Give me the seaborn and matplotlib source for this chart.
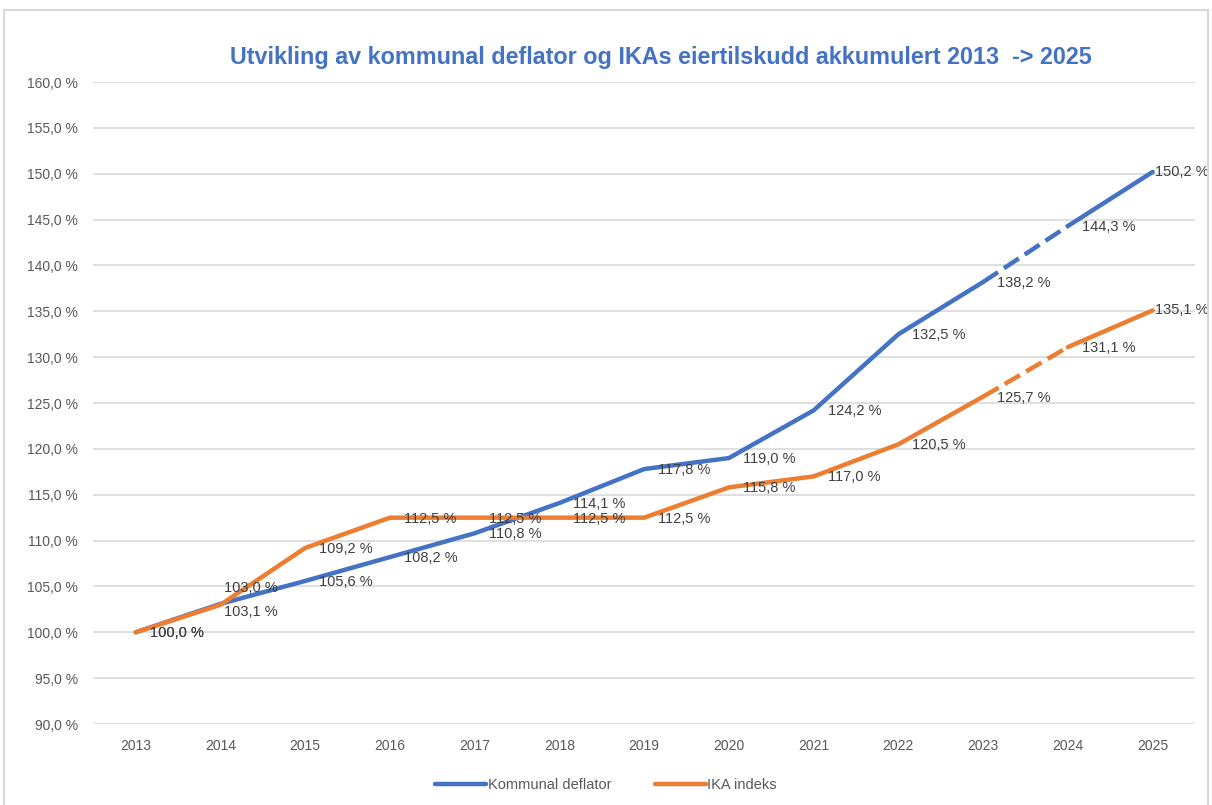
import matplotlib
matplotlib.use("Agg")
import matplotlib.pyplot as plt
import seaborn as sns
import pandas as pd
from matplotlib.lines import Line2D
from matplotlib.patches import Rectangle

years = ["2013", "2014", "2015", "2016", "2017", "2018", "2019",
         "2020", "2021", "2022", "2023", "2024", "2025"]
deflator = [100.0, 103.1, 105.6, 108.2, 110.8, 114.1, 117.8,
            119.0, 124.2, 132.5, 138.2, 144.3, 150.2]
ika = [100.0, 103.0, 109.2, 112.5, 112.5, 112.5, 112.5,
       115.8, 117.0, 120.5, 125.7, 131.1, 135.1]

BLUE = "#4472C4"
ORANGE = "#ED7D31"

sns.set_theme(style="white")
plt.rcParams["font.family"] = ["Liberation Sans", "DejaVu Sans"]

fig = plt.figure(figsize=(12.12, 8.05), dpi=100)
ax = fig.add_axes([0.077, 0.1006, 0.909, 0.7975])

fmt = lambda v: f"{v:.1f} %".replace(".", ",")


def draw_series(values, color):
    df = pd.DataFrame({"x": range(len(values)), "y": values})
    # solid up to 2023, dashed 2023 -> 2024, solid 2024 -> 2025
    sns.lineplot(data=df.iloc[:11], x="x", y="y", ax=ax, color=color, lw=3.2,
                 solid_capstyle="round")
    sns.lineplot(data=df.iloc[10:12], x="x", y="y", ax=ax, color=color, lw=3.2,
                 dashes=(4.0, 1.6))
    sns.lineplot(data=df.iloc[11:], x="x", y="y", ax=ax, color=color, lw=3.2,
                 solid_capstyle="round")


draw_series(deflator, BLUE)
draw_series(ika, ORANGE)

# data labels (Excel "right" position, a few moved by hand)
def label_offset(i, series):
    if i == 1:
        return (4, -8) if series == "d" else (4, 17)
    if i == 12:
        return (2, 0)
    return (14, -1)

for i, v in enumerate(deflator):
    ax.annotate(fmt(v), (i, v), xytext=label_offset(i, "d"), textcoords="offset pixels",
                ha="left", va="center", fontsize=10.5, color="#404040")
for i, v in enumerate(ika):
    ax.annotate(fmt(v), (i, v), xytext=label_offset(i, "i"), textcoords="offset pixels",
                ha="left", va="center", fontsize=10.5, color="#404040")

ax.set_xlim(-0.5, 12.5)
ax.set_ylim(90, 160)
ax.set_xticks(range(len(years)))
ax.set_xticklabels(years)
yt = list(range(90, 161, 5))
ax.set_yticks(yt)
ax.set_yticklabels([fmt(t) for t in yt])
ax.tick_params(axis="both", length=0, labelsize=10, labelcolor="#595959")
ax.tick_params(axis="y", pad=11)
ax.tick_params(axis="x", pad=11)
ax.set_xlabel("")
ax.set_ylabel("")
ax.grid(axis="y", color="#D9D9D9", lw=1.2)
ax.grid(axis="x", visible=False)
ax.set_axisbelow(True)
for s in ax.spines.values():
    s.set_visible(False)

fig.text(0.545, 0.928, "Utvikling av kommunal deflator og IKAs eiertilskudd akkumulert 2013  -> 2025",
         ha="center", va="center", fontsize=16.8, fontweight="bold", color=BLUE)

handles = [Line2D([], [], color=BLUE, lw=3.2), Line2D([], [], color=ORANGE, lw=3.2)]
fig.legend(handles, ["Kommunal deflator", "IKA indeks"], loc="center",
           bbox_to_anchor=(0.5, 0.025), ncol=2, frameon=False, fontsize=10.5,
           labelcolor="#595959", handlelength=3.5, handletextpad=0.1, columnspacing=3)

fig.patches.append(Rectangle((0.003, -0.01), 0.994, 0.998, transform=fig.transFigure,
                             fill=False, edgecolor="#D9D9D9", lw=1.5))

fig.savefig("out.png", dpi=100)
